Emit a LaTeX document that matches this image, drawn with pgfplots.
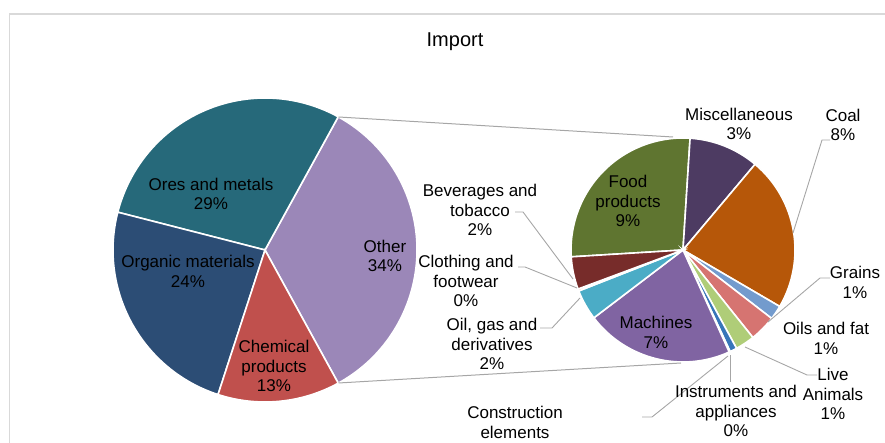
\documentclass[border=0pt]{standalone}
\usepackage{pgfplots}
\usepackage{pgfplotstable}
\pgfplotsset{compat=1.18}
\usepackage{fontspec}
\setmainfont{Liberation Sans}

% slice colours
\definecolor{cOres}{RGB}{38,105,122}
\definecolor{cOrganic}{RGB}{44,77,117}
\definecolor{cChem}{RGB}{192,80,77}
\definecolor{cOther}{RGB}{155,135,184}
\definecolor{cFood}{RGB}{95,117,48}
\definecolor{cMisc}{RGB}{77,59,98}
\definecolor{cCoal}{RGB}{182,87,9}
\definecolor{cGrains}{RGB}{115,155,205}
\definecolor{cOils}{RGB}{214,116,113}
\definecolor{cLive}{RGB}{175,205,120}
\definecolor{cInstr}{RGB}{55,118,185}
\definecolor{cConstr}{RGB}{230,150,60}
\definecolor{cMach}{RGB}{128,100,162}
\definecolor{cOilgas}{RGB}{75,172,198}
\definecolor{cCloth}{RGB}{247,150,70}
\definecolor{cBev}{RGB}{119,44,42}
\definecolor{leader}{RGB}{166,166,166}
\definecolor{frame}{RGB}{217,217,217}

% first pie, counter-clockwise from the split
\pgfplotstableread[col sep=comma]{
name,value,color
Other,34,cOther
Ores and metals,29,cOres
Organic materials,24,cOrganic
Chemical products,13,cChem
}\leftpie

% second pie (breakdown of Other), clockwise
\pgfplotstableread[col sep=comma]{
name,value,color
Food products,9.2,cFood
Miscellaneous,3.45,cMisc
Coal,7.6,cCoal
Grains,0.7,cGrains
Oils and fat,1.3,cOils
Live Animals,0.95,cLive
Instruments and appliances,0.35,cInstr
Construction elements,0.05,cConstr
Machines,7.3,cMach
Oil gas and derivatives,1.5,cOilgas
Clothing and footwear,0.1,cCloth
Beverages and tobacco,1.6,cBev
}\rightpie

\newcommand{\lab}{\fontsize{17}{19.8}\selectfont}

\begin{document}
\begin{tikzpicture}
\begin{axis}[
  name=ax,
  scale only axis,
  width=885pt, height=443pt,
  xmin=0, xmax=885, ymin=0, ymax=443,
  hide axis,
  clip=false,
]
\pgfplotsextra{
  % frame of the chart area
  \draw[frame, line width=1.5pt] (axis cs:9.5,-20) -- (axis cs:9.5,429) -- (axis cs:900,429);

  % ---- first pie
  \pgfplotstablegetrowsof{\leftpie}\pgfmathtruncatemacro\nl{\pgfplotsretval-1}
  \xdef\tot{0}
  \foreach \i in {0,...,\nl}{
    \pgfplotstablegetelem{\i}{value}\of\leftpie
    \pgfmathsetmacro\t{\tot+\pgfplotsretval}\xdef\tot{\t}
  }
  \pgfplotstablegetelem{0}{value}\of\leftpie
  \pgfmathsetmacro\st{-\pgfplotsretval/\tot*180}
  \xdef\cum{0}
  \foreach \i in {0,...,\nl}{
    \pgfplotstablegetelem{\i}{value}\of\leftpie \let\v\pgfplotsretval
    \pgfplotstablegetelem{\i}{color}\of\leftpie \let\c\pgfplotsretval
    \pgfmathsetmacro\a{\st+\cum/\tot*360}
    \pgfmathsetmacro\b{\st+(\cum+\v)/\tot*360}
    \filldraw[fill=\c, draw=white, line width=1.6pt]
      (axis cs:265,193) -- ++(\a:152pt) arc[start angle=\a, end angle=\b, radius=152pt] -- cycle;
    \pgfmathsetmacro\n{\cum+\v}\xdef\cum{\n}
  }

  % ---- second pie
  \pgfplotstablegetrowsof{\rightpie}\pgfmathtruncatemacro\nr{\pgfplotsretval-1}
  \xdef\tot{0}
  \foreach \i in {0,...,\nr}{
    \pgfplotstablegetelem{\i}{value}\of\rightpie
    \pgfmathsetmacro\t{\tot+\pgfplotsretval}\xdef\tot{\t}
  }
  \xdef\cum{0}
  \foreach \i in {0,...,\nr}{
    \pgfplotstablegetelem{\i}{value}\of\rightpie \let\v\pgfplotsretval
    \pgfplotstablegetelem{\i}{color}\of\rightpie \let\c\pgfplotsretval
    \pgfmathsetmacro\a{183.5-\cum/\tot*360}
    \pgfmathsetmacro\b{183.5-(\cum+\v)/\tot*360}
    \filldraw[fill=\c, draw=white, line width=1.6pt]
      (axis cs:683,193) -- ++(\a:112pt) arc[start angle=\a, end angle=\b, radius=112pt] -- cycle;
    \pgfmathsetmacro\n{\cum+\v}\xdef\cum{\n}
  }

  % connector lines between the pies
  \draw[leader, line width=1pt] (axis cs:338.5,326) -- (axis cs:673,306);
  \draw[leader, line width=1pt] (axis cs:338.5,60) -- (axis cs:681,80);

  % leader lines
  \draw[leader, line width=0.9pt] (axis cs:515,231) -- (axis cs:523,231) -- (axis cs:573,164);
  \draw[leader, line width=0.9pt] (axis cs:518,176) -- (axis cs:525,176) -- (axis cs:577,155);
  \draw[leader, line width=0.9pt] (axis cs:540,115) -- (axis cs:552,115) -- (axis cs:580,145);
  \draw[leader, line width=0.9pt] (axis cs:830,303) -- (axis cs:822,303) -- (axis cs:793,210);
  \draw[leader, line width=0.9pt] (axis cs:830,165) -- (axis cs:820,165) -- (axis cs:768,121);
  \draw[leader, line width=0.9pt] (axis cs:817,68) -- (axis cs:807,68) -- (axis cs:745,96);
  \draw[leader, line width=0.9pt] (axis cs:730,61) -- (axis cs:730,88);
  \draw[leader, line width=0.9pt] (axis cs:642,26) -- (axis cs:652,26) -- (axis cs:728,87);

  % title
  \node[font=\fontsize{20}{24}\selectfont] at (axis cs:455,401) {Import};

  % labels
  \begin{scope}[every node/.style={align=center, font=\lab, inner sep=0pt, text=black}]
    \node at (axis cs:211,249) {Ores and metals\\29\%};
    \node at (axis cs:188,172) {Organic materials\\24\%};
    \node at (axis cs:274,77) {Chemical\\products\\13\%};
    \node at (axis cs:385,187) {Other\\34\%};
    \node at (axis cs:628,242) {Food\\products\\9\%};
    \node at (axis cs:656,111) {Machines\\7\%};
    \node at (axis cs:739,319) {Miscellaneous\\3\%};
    \node at (axis cs:843,318) {Coal\\8\%};
    \node at (axis cs:855,161) {Grains\\1\%};
    \node at (axis cs:826,105) {Oils and fat\\1\%};
    \node at (axis cs:833,49) {Live\\Animals\\1\%};
    \node at (axis cs:736,32) {Instruments and\\appliances\\0\%};
    \node at (axis cs:515,11) {Construction\\elements\\0\%};
    \node at (axis cs:480,233) {Beverages and\\tobacco\\2\%};
    \node at (axis cs:466,162) {Clothing and\\footwear\\0\%};
    \node at (axis cs:492,99) {Oil, gas and\\derivatives\\2\%};
  \end{scope}
}
\end{axis}
\pgfresetboundingbox
\useasboundingbox (ax.south west) rectangle (ax.north east);
\end{tikzpicture}
\end{document}
